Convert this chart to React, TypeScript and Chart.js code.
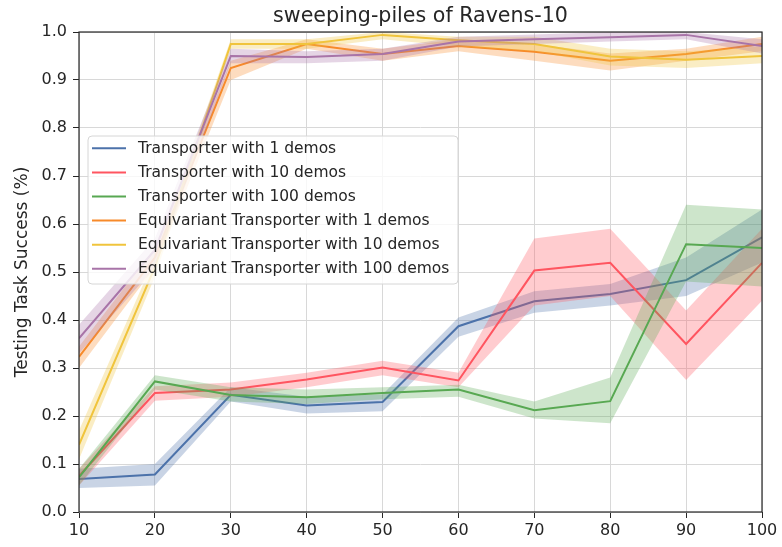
import { useEffect, useRef } from 'react';
import { Chart, registerables } from 'chart.js';

Chart.register(...registerables);

const demoSteps = [10, 20, 30, 40, 50, 60, 70, 80, 90, 100];
const yTicks = [0, 0.1, 0.2, 0.3, 0.4, 0.5, 0.6, 0.7, 0.8, 0.9, 1.0];

const seriesLabels = [
  'Transporter with 1 demos',
  'Transporter with 10 demos',
  'Transporter with 100 demos',
  'Equivariant Transporter with 1 demos',
  'Equivariant Transporter with 10 demos',
  'Equivariant Transporter with 100 demos',
];

const seriesColors = ['#4c72aa', '#ff5560', '#58a852', '#f78a2a', '#f0c43c', '#a874a8'];

// means
const t1Mean = [0.069, 0.078, 0.244, 0.222, 0.229, 0.387, 0.439, 0.454, 0.483, 0.572];
const t10Mean = [0.075, 0.248, 0.255, 0.276, 0.301, 0.274, 0.503, 0.519, 0.35, 0.519];
const t100Mean = [0.072, 0.272, 0.244, 0.239, 0.248, 0.255, 0.212, 0.231, 0.558, 0.55];
const e1Mean = [0.323, 0.53, 0.925, 0.975, 0.954, 0.971, 0.959, 0.94, 0.954, 0.975];
const e10Mean = [0.14, 0.51, 0.975, 0.975, 0.994, 0.983, 0.975, 0.949, 0.942, 0.95];
const e100Mean = [0.362, 0.546, 0.95, 0.948, 0.954, 0.98, 0.985, 0.989, 0.994, 0.971];

// lower bounds of shaded bands
const t1Low = [0.05, 0.055, 0.23, 0.205, 0.21, 0.365, 0.415, 0.43, 0.45, 0.52];
const t10Low = [0.055, 0.232, 0.24, 0.26, 0.285, 0.26, 0.43, 0.45, 0.275, 0.44];
const t100Low = [0.055, 0.255, 0.23, 0.225, 0.235, 0.24, 0.195, 0.185, 0.48, 0.47];
const e1Low = [0.3, 0.51, 0.9, 0.965, 0.94, 0.96, 0.94, 0.92, 0.94, 0.96];
const e10Low = [0.11, 0.49, 0.965, 0.965, 0.985, 0.97, 0.96, 0.93, 0.925, 0.935];
const e100Low = [0.33, 0.51, 0.935, 0.935, 0.94, 0.97, 0.975, 0.98, 0.985, 0.955];

// upper bounds of shaded bands
const t1High = [0.09, 0.1, 0.26, 0.24, 0.245, 0.405, 0.46, 0.475, 0.53, 0.63];
const t10High = [0.09, 0.262, 0.27, 0.29, 0.315, 0.29, 0.57, 0.59, 0.42, 0.59];
const t100High = [0.09, 0.285, 0.26, 0.255, 0.26, 0.265, 0.23, 0.28, 0.64, 0.63];
const e1High = [0.345, 0.55, 0.94, 0.985, 0.965, 0.985, 0.975, 0.955, 0.965, 0.99];
const e10High = [0.17, 0.53, 0.985, 0.985, 1.0, 0.99, 0.99, 0.965, 0.96, 0.97];
const e100High = [0.39, 0.57, 0.965, 0.96, 0.965, 0.99, 0.995, 1.0, 1.0, 0.985];

const means = [t1Mean, t10Mean, t100Mean, e1Mean, e10Mean, e100Mean];
const lows = [t1Low, t10Low, t100Low, e1Low, e10Low, e100Low];
const highs = [t1High, t10High, t100High, e1High, e10High, e100High];

const FONT = "'DejaVu Sans', sans-serif";

function withAlpha(hex: string, a: number) {
  const r = parseInt(hex.slice(1, 3), 16);
  const g = parseInt(hex.slice(3, 5), 16);
  const b = parseInt(hex.slice(5, 7), 16);
  return `rgba(${r},${g},${b},${a})`;
}

const frameAndLegend = {
  id: 'frameAndLegend',
  afterDraw(chart: any) {
    const { ctx, chartArea } = chart;
    ctx.save();
    // full spine box
    ctx.strokeStyle = '#262626';
    ctx.lineWidth = 1.2;
    ctx.strokeRect(chartArea.left, chartArea.top, chartArea.right - chartArea.left, chartArea.bottom - chartArea.top);

    // legend
    const bx = 88, by = 136, bw = 370, bh = 148, r = 4;
    ctx.beginPath();
    ctx.moveTo(bx + r, by);
    ctx.lineTo(bx + bw - r, by);
    ctx.quadraticCurveTo(bx + bw, by, bx + bw, by + r);
    ctx.lineTo(bx + bw, by + bh - r);
    ctx.quadraticCurveTo(bx + bw, by + bh, bx + bw - r, by + bh);
    ctx.lineTo(bx + r, by + bh);
    ctx.quadraticCurveTo(bx, by + bh, bx, by + bh - r);
    ctx.lineTo(bx, by + r);
    ctx.quadraticCurveTo(bx, by, bx + r, by);
    ctx.closePath();
    ctx.fillStyle = 'rgba(255,255,255,0.8)';
    ctx.fill();
    ctx.strokeStyle = '#d6d6d6';
    ctx.lineWidth = 1;
    ctx.stroke();

    ctx.font = `15.5px ${FONT}`;
    ctx.textBaseline = 'middle';
    ctx.textAlign = 'left';
    seriesLabels.forEach((label, i) => {
      const y = 148.3 + i * 24.1;
      ctx.strokeStyle = seriesColors[i];
      ctx.lineWidth = 2;
      ctx.beginPath();
      ctx.moveTo(92, y);
      ctx.lineTo(126, y);
      ctx.stroke();
      ctx.fillStyle = '#262626';
      ctx.fillText(label, 138, y + 0.5);
    });
    ctx.restore();
  },
};

export default function App() {
  const canvasRef = useRef<HTMLCanvasElement>(null);

  useEffect(() => {
    document.body.style.margin = '0';
    const canvas = canvasRef.current;
    if (!canvas) return;

    const datasets: any[] = [];
    seriesLabels.forEach((label, i) => {
      const base = 100 - i * 10;
      datasets.push({
        label: label + ' low',
        data: demoSteps.map((x, j) => ({ x, y: lows[i][j] })),
        borderWidth: 0,
        pointRadius: 0,
        showLine: false,
        fill: false,
        order: base + 2,
      });
      datasets.push({
        label: label + ' high',
        data: demoSteps.map((x, j) => ({ x, y: highs[i][j] })),
        borderWidth: 0,
        borderColor: 'rgba(0,0,0,0)',
        pointRadius: 0,
        backgroundColor: withAlpha(seriesColors[i], 0.3),
        fill: '-1',
        tension: 0,
        order: base + 1,
      });
      datasets.push({
        label,
        data: demoSteps.map((x, j) => ({ x, y: means[i][j] })),
        borderColor: seriesColors[i],
        backgroundColor: seriesColors[i],
        borderWidth: 2,
        pointRadius: 0,
        fill: false,
        tension: 0,
        order: base,
      });
    });

    const chart = new Chart(canvas, {
      type: 'line',
      data: { datasets },
      plugins: [frameAndLegend],
      options: {
        animation: false,
        responsive: false,
        devicePixelRatio: 1,
        layout: { padding: { left: 0, right: 20, top: 0, bottom: 0 } },
        plugins: {
          legend: { display: false },
          tooltip: { enabled: false },
          title: {
            display: true,
            fullSize: false,
            text: 'sweeping-piles of Ravens-10',
            color: '#262626',
            font: { family: FONT, size: 20.6, weight: 'normal', lineHeight: 1.2 },
            padding: { top: 4, bottom: 3.28 },
          },
        },
        scales: {
          x: {
            type: 'linear',
            min: 10,
            max: 100,
            afterBuildTicks: (scale: any) => {
              scale.ticks = demoSteps.map((v) => ({ value: v }));
            },
            afterFit: (scale: any) => {
              scale.height = 35;
            },
            ticks: {
              color: '#262626',
              font: { family: FONT, size: 16 },
              padding: 3,
              maxRotation: 0,
              autoSkip: false,
            },
            grid: {
              color: '#d8d8d8',
              lineWidth: 1,
              tickColor: '#262626',
              tickLength: 6,
            },
            border: { display: false },
          },
          y: {
            type: 'linear',
            min: 0,
            max: 1,
            afterBuildTicks: (scale: any) => {
              scale.ticks = yTicks.map((v) => ({ value: v }));
            },
            afterFit: (scale: any) => {
              scale.width = 79;
            },
            ticks: {
              color: '#262626',
              font: { family: FONT, size: 16 },
              padding: 6,
              callback: (v: any) => Number(v).toFixed(1),
              autoSkip: false,
            },
            grid: {
              color: '#d8d8d8',
              lineWidth: 1,
              tickColor: '#262626',
              tickLength: 6,
            },
            border: { display: false },
            title: {
              display: true,
              text: 'Testing Task Success (%)',
              color: '#262626',
              font: { family: FONT, size: 17 },
              padding: { top: 12, bottom: 0 },
            },
          },
        },
      },
    });

    return () => chart.destroy();
  }, []);

  return <canvas ref={canvasRef} width={782} height={547} style={{ display: 'block' }} />;
}
